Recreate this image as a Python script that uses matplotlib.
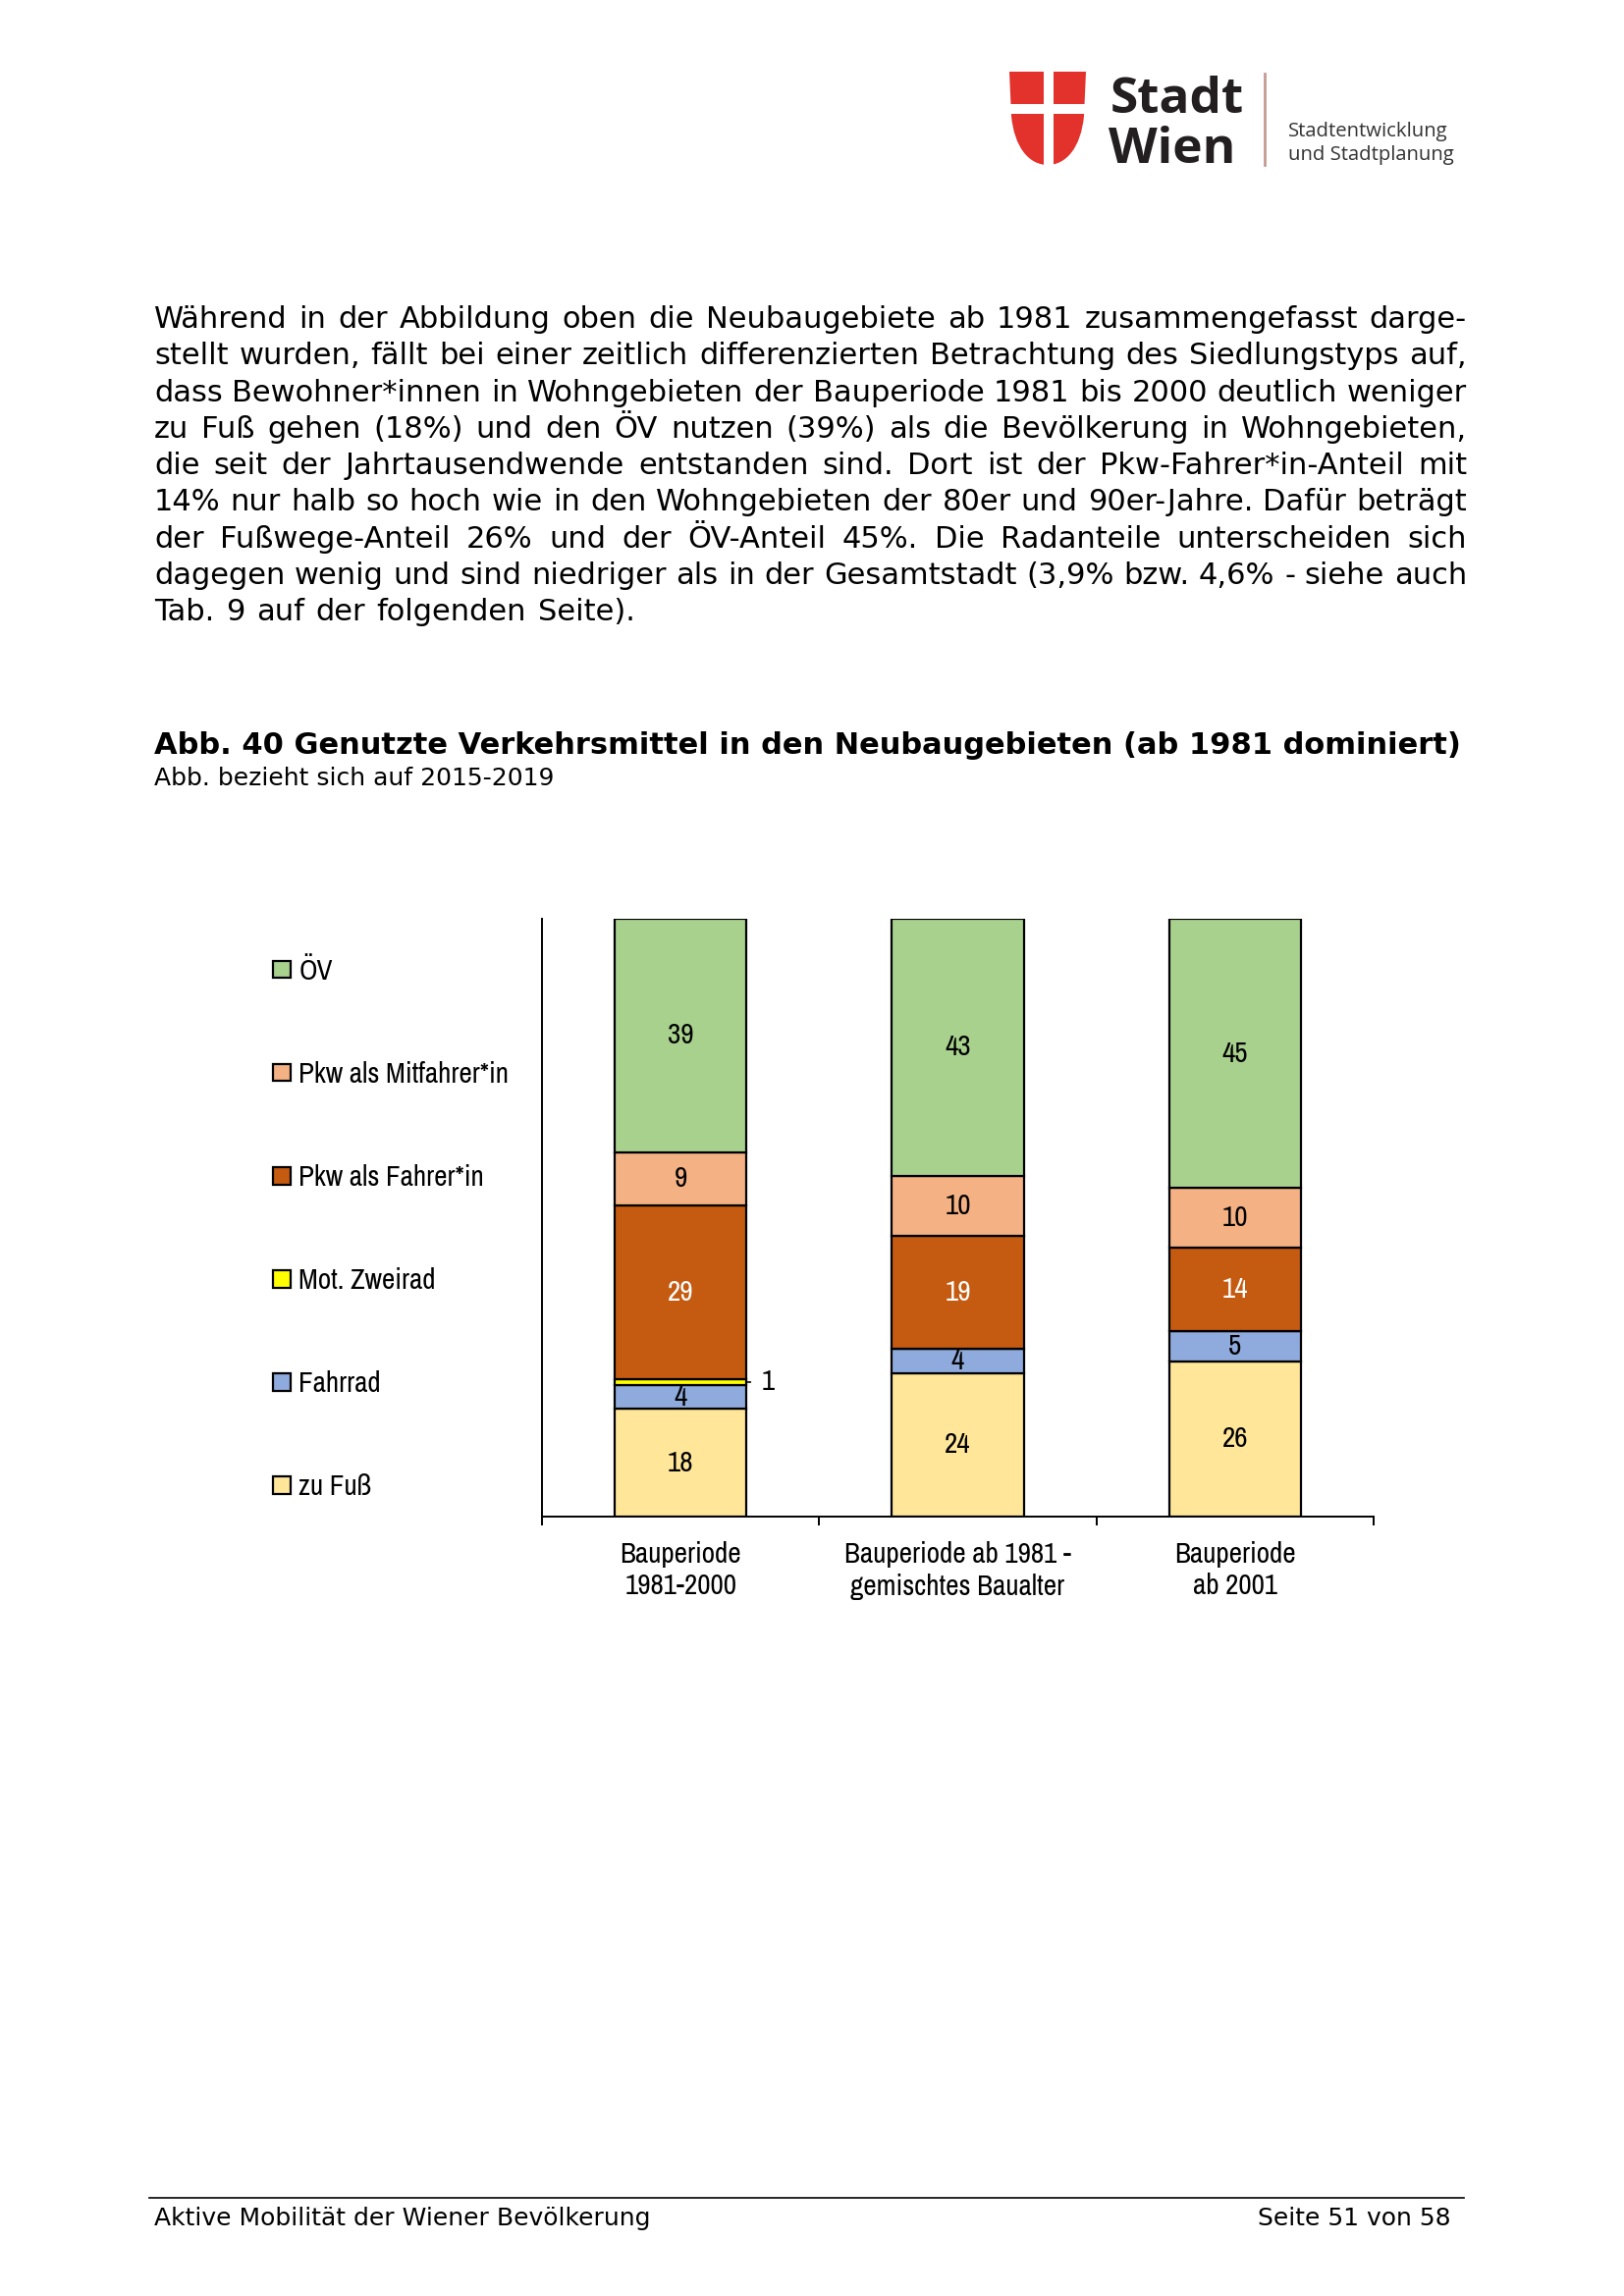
import numpy as np
import matplotlib
matplotlib.use("Agg")
import matplotlib.pyplot as plt
from matplotlib import font_manager
from matplotlib.patches import Rectangle, PathPatch
from matplotlib.path import Path

# page size in pixels (A4 at 200 dpi)
W, H = 1654, 2339

def fx(x):
    return x / W

def fy(y):
    return 1 - y / H

# chart data
categories = ["Bauperiode\n1981-2000", "Bauperiode ab 1981 -\ngemischtes Baualter", "Bauperiode\nab 2001"]
modes = ["zu Fuß", "Fahrrad", "Mot. Zweirad", "Pkw als Fahrer*in", "Pkw als Mitfahrer*in", "ÖV"]
zu_fuss = [18, 24, 26]
fahrrad = [4, 4, 5]
mot_zweirad = [1, 0, 0]
pkw_fahrer = [29, 19, 14]
pkw_mitfahrer = [9, 10, 10]
oev = [39, 43, 45]
colors = ["#FFE699", "#8FAADC", "#FFFF00", "#C55A11", "#F4B183", "#A9D18E"]

body_lines = [
    "Während in der Abbildung oben die Neubaugebiete ab 1981 zusammengefasst darge-",
    "stellt wurden, fällt bei einer zeitlich differenzierten Betrachtung des Siedlungstyps auf,",
    "dass Bewohner*innen in Wohngebieten der Bauperiode 1981 bis 2000 deutlich weniger",
    "zu Fuß gehen (18%) und den ÖV nutzen (39%) als die Bevölkerung in Wohngebieten,",
    "die seit der Jahrtausendwende entstanden sind. Dort ist der Pkw-Fahrer*in-Anteil mit",
    "14% nur halb so hoch wie in den Wohngebieten der 80er und 90er-Jahre. Dafür beträgt",
    "der Fußwege-Anteil 26% und der ÖV-Anteil 45%. Die Radanteile unterscheiden sich",
    "dagegen wenig und sind niedriger als in der Gesamtstadt (3,9% bzw. 4,6% - siehe auch",
    "Tab. 9 auf der folgenden Seite).",
]

page_font = ["DejaVu Sans"]
narrow_font = font_manager.FontProperties(family=["Archivo Narrow", "DejaVu Sans"], size=10.5)

fig = plt.figure(figsize=(W / 200, H / 200), dpi=200)
renderer = fig.canvas.get_renderer()

# --- logo ---
verts = [(1028, 73), (1106, 73), (1104, 118),
         (1101, 150), (1086, 168), (1067, 168),
         (1048, 168), (1033, 150), (1030, 118),
         (1028, 73)]
codes = [Path.MOVETO, Path.LINETO, Path.LINETO,
         Path.CURVE4, Path.CURVE4, Path.CURVE4,
         Path.CURVE4, Path.CURVE4, Path.CURVE4,
         Path.CLOSEPOLY]
shield = Path([(fx(a), fy(b)) for a, b in verts], codes)
fig.add_artist(PathPatch(shield, transform=fig.transFigure, facecolor="#E3312C", edgecolor="none"))
fig.add_artist(Rectangle((fx(1063), fy(170)), fx(10), 100 / H, transform=fig.transFigure,
                         facecolor="white", edgecolor="none"))
fig.add_artist(Rectangle((fx(1025), fy(116)), fx(85), 10 / H, transform=fig.transFigure,
                         facecolor="white", edgecolor="none"))
fig.text(fx(1131), fy(115), "Stadt", fontsize=18.5, fontweight="bold", family="Open Sans",
         color="#231F20", va="baseline")
fig.text(fx(1129), fy(166), "Wien", fontsize=18.5, fontweight="bold", family="Open Sans",
         color="#231F20", va="baseline")
fig.add_artist(plt.Line2D([fx(1288), fx(1288)], [fy(75), fy(168)], transform=fig.transFigure,
                          color="#C49A94", lw=1.0))
fig.text(fx(1312), fy(139), "Stadtentwicklung", fontsize=7.3, family="Open Sans", color="#333333", va="baseline")
fig.text(fx(1312), fy(163), "und Stadtplanung", fontsize=7.3, family="Open Sans", color="#333333", va="baseline")

# --- body text, justified ---
x_left, x_right = 157, 1494
for i, line in enumerate(body_lines):
    base = 334 + i * 37.3
    words = line.split(" ")
    texts = [fig.text(0, fy(base), w, fontsize=11, family=page_font, va="baseline") for w in words]
    widths = [t.get_window_extent(renderer).width for t in texts]
    if i < len(body_lines) - 1:
        gap = (x_right - x_left - sum(widths)) / (len(words) - 1)
    else:
        gap = renderer.points_to_pixels(11) * 0.38
    x = x_left
    for t, w in zip(texts, widths):
        t.set_x(fx(x))
        x += w + gap

# --- title ---
fig.text(fx(157), fy(768), "Abb. 40 Genutzte Verkehrsmittel in den Neubaugebieten (ab 1981 dominiert)",
         fontsize=11, fontweight="bold", family=page_font, va="baseline")
fig.text(fx(157), fy(800), "Abb. bezieht sich auf 2015-2019", fontsize=9, family=page_font, va="baseline")

# --- chart ---
ax = fig.add_axes([fx(552), fy(1545), (1399 - 552) / W, (1545 - 936) / H])
x = np.arange(len(categories))
series = [zu_fuss, fahrrad, mot_zweirad, pkw_fahrer, pkw_mitfahrer, oev]
bottom = np.zeros(len(categories))
containers = []
for name, vals, col in zip(modes, series, colors):
    bars = ax.bar(x, vals, width=0.475, bottom=bottom, color=col, edgecolor="black", linewidth=0.8,
                  label=name)
    containers.append(bars)
    if name == "Mot. Zweirad":
        labels = [""] * len(vals)
    else:
        labels = [str(v) if v > 0 else "" for v in vals]
    txtcol = "white" if name == "Pkw als Fahrer*in" else "black"
    ax.bar_label(bars, labels=labels, label_type="center", color=txtcol, fontproperties=narrow_font)
    bottom = bottom + np.array(vals)

# outside label for the small Mot. Zweirad segment
ax.annotate(str(mot_zweirad[0]), xy=(x[0] + 0.475 / 2, zu_fuss[0] + fahrrad[0] + mot_zweirad[0] / 2),
            xytext=(5.5, 0), textcoords="offset points", ha="left", va="center",
            fontproperties=narrow_font,
            arrowprops=dict(arrowstyle="-", lw=0.6, color="black", shrinkA=2, shrinkB=0))

ax.set_xlim(-0.5, 2.5)
ax.set_ylim(0, 100)
ax.spines["top"].set_visible(False)
ax.spines["right"].set_visible(False)
ax.spines["left"].set_linewidth(0.7)
ax.spines["bottom"].set_linewidth(0.7)
ax.set_yticks([])
ax.set_xticks(x)
ax.set_xticklabels(categories, fontproperties=narrow_font, linespacing=1.25)
ax.set_xticks([-0.5, 0.5, 1.5, 2.5], minor=True)
ax.tick_params(axis="x", which="major", length=0, pad=9)
ax.tick_params(axis="x", which="minor", length=3.3, width=0.7, direction="out")

handles = containers[::-1]
ax.legend(handles, modes[::-1], loc="upper left", bbox_to_anchor=(fx(278), fy(976)),
          bbox_transform=fig.transFigure, frameon=False, prop=narrow_font,
          handlelength=0.6, handleheight=0.55, handletextpad=0.3, labelspacing=2.675,
          borderpad=0, borderaxespad=0)

# --- footer ---
fig.add_artist(plt.Line2D([fx(152), fx(1491)], [fy(2239), fy(2239)], transform=fig.transFigure,
                          color="black", lw=0.6))
fig.text(fx(157), fy(2267), "Aktive Mobilität der Wiener Bevölkerung", fontsize=9, family=page_font, va="baseline")
fig.text(fx(1478), fy(2267), "Seite 51 von 58", fontsize=9, family=page_font, va="baseline", ha="right")

fig.savefig("out.png", dpi=200, facecolor="white")
